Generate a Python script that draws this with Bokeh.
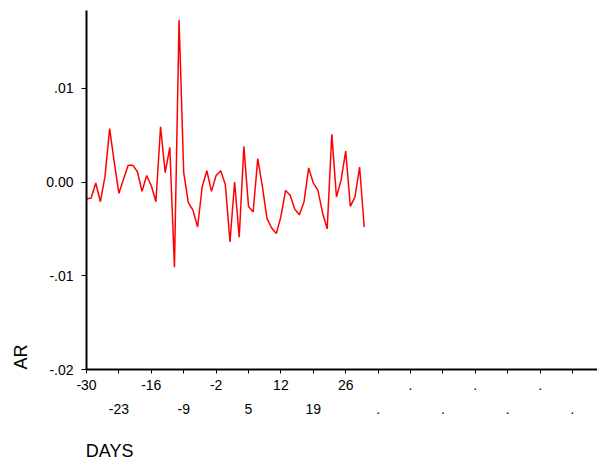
import math
from bokeh.plotting import figure
from bokeh.models import Range1d, LinearAxis, FixedTicker, CustomJSTickFormatter
from bokeh.embed import file_html
from bokeh.resources import INLINE

# ---- data ----
days = list(range(-30, 31))
ar = [-0.0018, -0.0017, -0.0001, -0.0021, 0.0006, 0.0057, 0.0021, -0.0012, 0.0003, 0.0018,
      0.0018, 0.0011, -0.0010, 0.0007, -0.0004, -0.0021, 0.0059, 0.0010, 0.0037, -0.0091,
      0.0173, 0.0010, -0.0022, -0.0030, -0.0048, -0.0005, 0.0012, -0.0010, 0.0007, 0.0012,
      -0.0003, -0.0064, 0.0000, -0.0059, 0.0038, -0.0026, -0.0032, 0.0025, -0.0005, -0.0039,
      -0.0049, -0.0055, -0.0037, -0.0009, -0.0014, -0.0029, -0.0035, -0.0021, 0.0015, -0.0001,
      -0.0009, -0.0033, -0.0050, 0.0051, -0.0016, 0.0002, 0.0033, -0.0026, -0.0016, 0.0016,
      -0.0048]

x_ticks = [-30 + 7 * k for k in range(16)]
x_tick_labels = ["-30", "-23", "-16", "-9", "-2", "5", "12", "19", "26",
                 ".", ".", ".", ".", ".", ".", "."]
y_ticks = [-0.02, -0.01, 0.0, 0.01]
y_tick_labels = ["-.02", "-.01", "0.00", ".01"]
x_title = "DAYS"
y_title = "AR"

FONT = "Liberation Sans"

p = figure(width=597, height=464, output_backend="svg", toolbar_location=None,
           x_range=Range1d(-30, 80.4), y_range=Range1d(-0.02, 0.0183),
           x_axis_location=None, y_axis_location=None,
           min_border_left=86, min_border_right=0, min_border_top=10, min_border_bottom=95)
p.outline_line_color = None
p.xgrid.visible = False
p.ygrid.visible = False
p.background_fill_color = "white"
p.border_fill_color = "white"

p.line(days, ar, line_color="#ff0000", line_width=1.5)


def bare_axis(ticks, text, standoff, size, orientation="horizontal"):
    ax = LinearAxis(ticker=FixedTicker(ticks=ticks),
                    formatter=CustomJSTickFormatter(code="return %r;" % text))
    ax.axis_line_color = None
    ax.major_tick_line_color = None
    ax.major_tick_out = 0
    ax.major_tick_in = 0
    ax.minor_tick_line_color = None
    ax.major_label_standoff = standoff
    ax.major_label_text_font = FONT
    ax.major_label_text_font_size = size
    ax.major_label_text_color = "black"
    ax.major_label_orientation = orientation
    return ax


# y axis
yax = LinearAxis(ticker=FixedTicker(ticks=y_ticks),
                 major_label_overrides={t: l for t, l in zip(y_ticks, y_tick_labels)})
yax.axis_line_width = 2
yax.axis_line_color = "black"
yax.major_tick_line_color = "black"
yax.major_tick_line_width = 1
yax.major_tick_out = 5
yax.major_tick_in = 0
yax.minor_tick_line_color = None
yax.major_label_standoff = 8
yax.major_label_text_font = FONT
yax.major_label_text_font_size = "14px"
yax.major_label_text_color = "black"
p.add_layout(yax, "left")
# y title as a one-tick label axis placed near the bottom of the axis
p.add_layout(bare_axis([-0.01867], y_title, 12, "18px", "vertical"), "left")

# x axis, first row of labels
ov1 = {t: (l if i % 2 == 0 else "") for i, (t, l) in enumerate(zip(x_ticks, x_tick_labels))}
xax = LinearAxis(ticker=FixedTicker(ticks=x_ticks), major_label_overrides=ov1)
xax.axis_line_width = 2
xax.axis_line_color = "black"
xax.major_tick_line_color = "black"
xax.major_tick_line_width = 1
xax.major_tick_out = 4
xax.major_tick_in = 0
xax.minor_tick_line_color = None
xax.major_label_standoff = 6
xax.major_label_text_font = FONT
xax.major_label_text_font_size = "14px"
xax.major_label_text_color = "black"
p.add_layout(xax, "below")

# x axis, second row of labels
ov2 = {t: (l if i % 2 == 1 else "") for i, (t, l) in enumerate(zip(x_ticks, x_tick_labels))}
xax2 = LinearAxis(ticker=FixedTicker(ticks=x_ticks), major_label_overrides=ov2)
xax2.axis_line_color = None
xax2.major_tick_line_color = None
xax2.major_tick_out = 0
xax2.major_tick_in = 0
xax2.minor_tick_line_color = None
xax2.major_label_standoff = 11
xax2.major_label_text_font = FONT
xax2.major_label_text_font_size = "14px"
xax2.major_label_text_color = "black"
p.add_layout(xax2, "below")

# x title as a one-tick label axis placed at the left
p.add_layout(bare_axis([-25], x_title, 24, "18px"), "below")

open("out.html", "w").write(file_html(p, INLINE))
